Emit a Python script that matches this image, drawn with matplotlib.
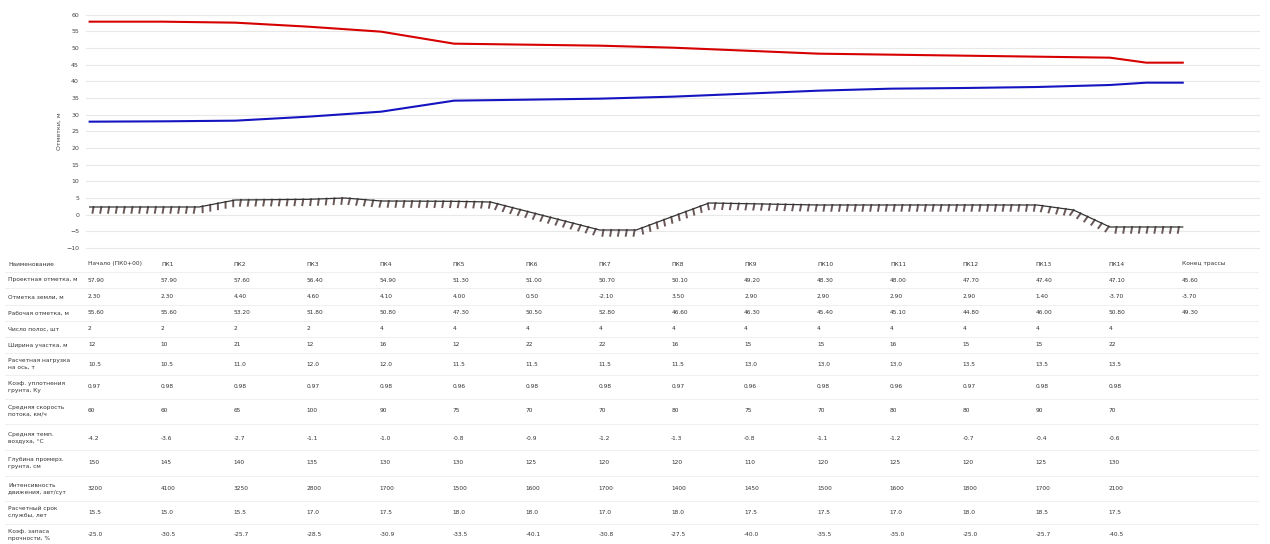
import matplotlib.pyplot as plt
import matplotlib.patheffects as pe

plt.rcParams['font.family'] = ['DejaVu Sans']

# chart data (x in picket units)
design_x = [0, 1, 2, 3, 4, 5, 6, 7, 8, 9, 10, 11, 12, 13, 14, 14.5, 15]
design_y = [57.9, 57.9, 57.6, 56.4, 54.9, 51.3, 51.0, 50.7, 50.1, 49.2, 48.3, 48.0, 47.7, 47.4, 47.1, 45.6, 45.6]

blue_x = [0, 1, 2, 3, 4, 5, 6, 7, 8, 9, 10, 11, 12, 13, 14, 14.5, 15]
blue_y = [27.9, 28.0, 28.2, 29.4, 30.9, 34.2, 34.5, 34.8, 35.4, 36.3, 37.2, 37.8, 38.0, 38.3, 38.9, 39.6, 39.6]

ground_x = [0, 1, 1.5, 2, 3, 3.5, 4, 5, 5.5, 7, 7.5, 8.5, 10, 13, 13.5, 14, 15]
ground_y = [2.3, 2.3, 2.3, 4.4, 4.6, 5.0, 4.1, 4.0, 3.8, -4.6, -4.6, 3.5, 2.9, 2.9, 1.4, -3.7, -3.7]

y_ticks = [60, 55, 50, 45, 40, 35, 30, 25, 20, 15, 10, 5, 0, -5, -10]

# table data
row_labels = [
    "Наименование",
    "Проектная отметка, м",
    "Отметка земли, м",
    "Рабочая отметка, м",
    "Число полос, шт",
    "Ширина участка, м",
    "Расчетная нагрузка\nна ось, т",
    "Коэф. уплотнения\nгрунта, Ку",
    "Средняя скорость\nпотока, км/ч",
    "Средняя темп.\nвоздуха, °C",
    "Глубина промерз.\nгрунта, см",
    "Интенсивность\nдвижения, авт/сут",
    "Расчетный срок\nслужбы, лет",
    "Коэф. запаса\nпрочности, %",
]
header = ["Начало (ПК0+00)", "ПК1", "ПК2", "ПК3", "ПК4", "ПК5", "ПК6", "ПК7",
          "ПК8", "ПК9", "ПК10", "ПК11", "ПК12", "ПК13", "ПК14", "Конец трассы"]
design_row = ["57.90", "57.90", "57.60", "56.40", "54.90", "51.30", "51.00", "50.70",
              "50.10", "49.20", "48.30", "48.00", "47.70", "47.40", "47.10", "45.60"]
ground_row = ["2.30", "2.30", "4.40", "4.60", "4.10", "4.00", "0.50", "-2.10",
              "3.50", "2.90", "2.90", "2.90", "2.90", "1.40", "-3.70", "-3.70"]
work_row = ["55.60", "55.60", "53.20", "51.80", "50.80", "47.30", "50.50", "52.80",
            "46.60", "46.30", "45.40", "45.10", "44.80", "46.00", "50.80", "49.30"]
lanes_row = ["2", "2", "2", "2", "4", "4", "4", "4", "4", "4", "4", "4", "4", "4", "4"]
width_row = ["12", "10", "21", "12", "16", "12", "22", "22", "16", "15", "15", "16", "15", "15", "22"]
load_row = ["10.5", "10.5", "11.0", "12.0", "12.0", "11.5", "11.5", "11.5", "11.5", "13.0",
            "13.0", "13.0", "13.5", "13.5", "13.5"]
comp_row = ["0.97", "0.98", "0.98", "0.97", "0.98", "0.96", "0.98", "0.98", "0.97", "0.96",
            "0.98", "0.96", "0.97", "0.98", "0.98"]
speed_row = ["60", "60", "65", "100", "90", "75", "70", "70", "80", "75", "70", "80", "80", "90", "70"]
temp_row = ["-4.2", "-3.6", "-2.7", "-1.1", "-1.0", "-0.8", "-0.9", "-1.2", "-1.3", "-0.8",
            "-1.1", "-1.2", "-0.7", "-0.4", "-0.6"]
frost_row = ["150", "145", "140", "135", "130", "130", "125", "120", "120", "110",
             "120", "125", "120", "125", "130"]
traffic_row = ["3200", "4100", "3250", "2800", "1700", "1500", "1600", "1700", "1400", "1450",
               "1500", "1600", "1800", "1700", "2100"]
service_row = ["15.5", "15.0", "15.5", "17.0", "17.5", "18.0", "18.0", "17.0", "18.0", "17.5",
               "17.5", "17.0", "18.0", "18.5", "17.5"]
reserve_row = ["-25.0", "-30.5", "-25.7", "-28.5", "-30.9", "-33.5", "-40.1", "-30.8", "-27.5",
               "-40.0", "-35.5", "-35.0", "-25.0", "-25.7", "-40.5"]

table_rows = [header, design_row, ground_row, work_row, lanes_row, width_row, load_row,
              comp_row, speed_row, temp_row, frost_row, traffic_row, service_row, reserve_row]
row_centers = [264, 280, 297, 313, 329, 345, 364, 387, 411, 438, 463, 489, 512, 535]

W, H = 1270, 544
fig = plt.figure(figsize=(12.7, 5.44), dpi=100)

ax = fig.add_axes([86 / W, 1 - 255 / H, (1260 - 86) / W, (255 - 8) / H])
ax.set_xlim(-0.05, 16.06)
ax.set_ylim(-12.1, 62.0)
ax.set_yticks(y_ticks)
ax.tick_params(axis='y', labelsize=4.5, length=0, pad=5, colors='#444')
ax.set_xticks([])
ax.grid(axis='y', color='#e8e8e8', lw=0.8)
for s in ax.spines.values():
    s.set_visible(False)
ax.set_ylabel("Отметки, м", fontsize=4.5, color='#444', labelpad=3)

ax.plot(design_x, design_y, color='#d60000', lw=1.5)
ax.plot(blue_x, blue_y, color='#1414c0', lw=1.5)
ax.plot(ground_x, ground_y, color='#333333', lw=0.9,
        path_effects=[pe.withTickedStroke(spacing=5.6, angle=-100, length=0.75,
                                          linewidth=1.4, foreground='#6a5858')])

# table below the chart
col_x = [88 + 72.9 * i for i in range(16)]
for r, (label, vals, yc) in enumerate(zip(row_labels, table_rows, row_centers)):
    fig.text(8 / W, 1 - yc / H, label, fontsize=4.2, color='#333', va='center', ha='left',
             linespacing=1.3)
    for i, v in enumerate(vals):
        fig.text(col_x[i] / W, 1 - yc / H, v, fontsize=4.2, color='#333', va='center', ha='left')

# faint row separators
bounds = [256, 272, 288, 305, 321, 337, 353, 375, 399, 424, 450, 476, 501, 524]
for b in bounds[1:]:
    fig.add_artist(plt.Line2D([5 / W, 1258 / W], [1 - b / H, 1 - b / H],
                              color='#ececec', lw=0.6))

fig.savefig("out.png", dpi=100)
